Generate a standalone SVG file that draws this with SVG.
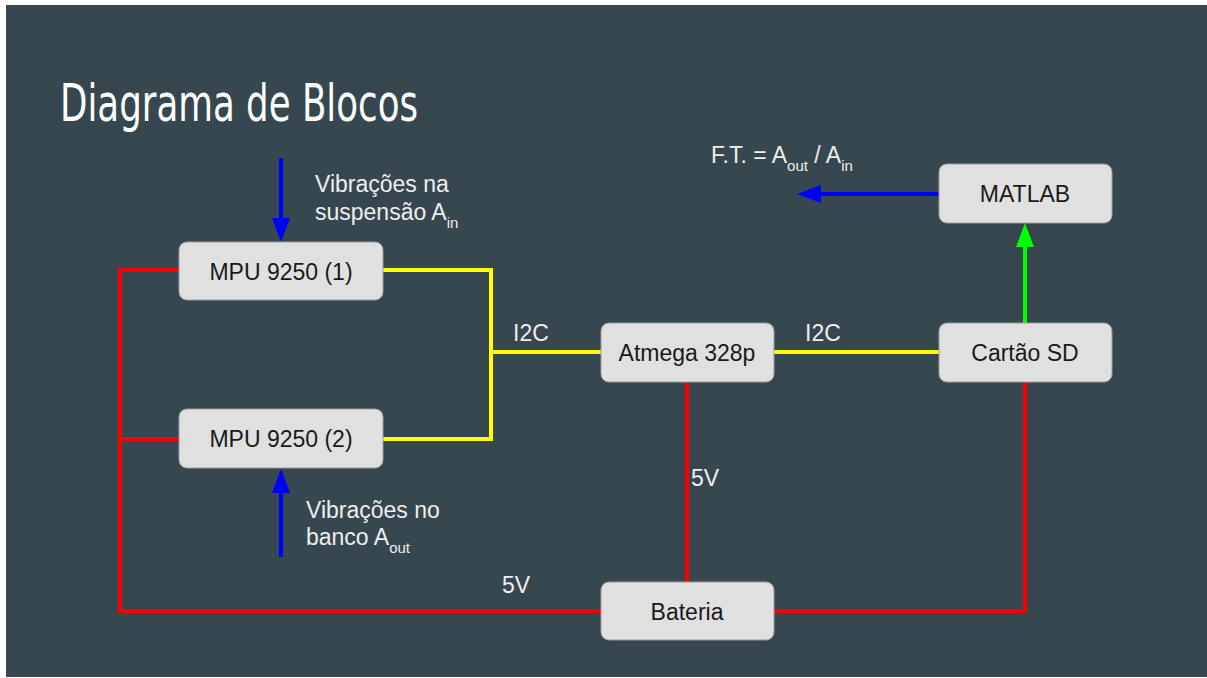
<svg xmlns="http://www.w3.org/2000/svg" width="1207" height="678" viewBox="0 0 1207 678">
<style>
.node rect{fill:#E0E0E0;stroke:#9E9E9E;stroke-width:1}
.node text{font-family:"Liberation Sans",Arial,sans-serif;font-size:23px;fill:#1a1a1a;text-anchor:middle}
.lbl{font-family:"Liberation Sans",Arial,sans-serif;font-size:23px;fill:#EEEEEE}
.sub{font-size:15px}
.red{stroke:#FF0000;stroke-width:4;fill:none}
.yel{stroke:#FFFF00;stroke-width:4;fill:none}
.blue{stroke:#0000FF;stroke-width:4;fill:none}
.green{stroke:#00FF00;stroke-width:4;fill:none}
</style>
<defs>
<marker id="ab" markerUnits="userSpaceOnUse" markerWidth="24" markerHeight="18" refX="0" refY="9" orient="auto"><path d="M0,0 L24,9 L0,18 z" fill="#0000FF"/></marker>
<marker id="ag" markerUnits="userSpaceOnUse" markerWidth="24" markerHeight="18" refX="0" refY="9" orient="auto"><path d="M0,0 L24,9 L0,18 z" fill="#00FF00"/></marker>
</defs>
<rect x="0" y="0" width="1207" height="678" fill="#FFFFFF"/>
<rect x="6" y="5" width="1201" height="672" fill="#37474F"/>
<text x="60" y="121" font-family="'DejaVu Sans Condensed','DejaVu Sans',sans-serif" font-size="52" fill="#FFFFFF" textLength="358" lengthAdjust="spacingAndGlyphs">Diagrama de Blocos</text>
<g id="connectors">
<polyline class="red" points="179,270 120,270 120,611 601,611"/>
<line class="red" x1="120" y1="439" x2="179" y2="439"/>
<polyline class="red" points="774,611 1025,611 1025,382"/>
<line class="red" x1="687" y1="382" x2="687" y2="582"/>
<polyline class="yel" points="383,270 491,270 491,439 383,439"/>
<line class="yel" x1="491" y1="352" x2="601" y2="352"/>
<line class="yel" x1="774" y1="352" x2="939" y2="352"/>
<line class="blue" x1="281" y1="158" x2="281" y2="218" marker-end="url(#ab)"/>
<line class="blue" x1="281" y1="557" x2="281" y2="493" marker-end="url(#ab)"/>
<line class="blue" x1="939" y1="194" x2="821" y2="194" marker-end="url(#ab)"/>
<line class="green" x1="1025" y1="323" x2="1025" y2="247" marker-end="url(#ag)"/>
<text class="lbl" x="513" y="341">I2C</text>
<text class="lbl" x="805" y="341">I2C</text>
<text class="lbl" x="691" y="486">5V</text>
<text class="lbl" x="502" y="593">5V</text>
</g>
<g id="mpu1" class="node"><rect x="179" y="242" width="204" height="58" rx="8"/><text x="281" y="280">MPU 9250 (1)</text></g>
<g id="mpu2" class="node"><rect x="179" y="409" width="204" height="59" rx="8"/><text x="281" y="447">MPU 9250 (2)</text></g>
<g id="atmega" class="node"><rect x="601" y="323" width="173" height="59" rx="8"/><text x="687" y="361">Atmega 328p</text></g>
<g id="matlab" class="node"><rect x="939" y="164" width="173" height="59" rx="8"/><text x="1025" y="202">MATLAB</text></g>
<g id="sd" class="node"><rect x="939" y="323" width="173" height="59" rx="8"/><text x="1025" y="361">Cartão SD</text></g>
<g id="bateria" class="node"><rect x="601" y="582" width="173" height="58" rx="8"/><text x="687" y="620">Bateria</text></g>
<g id="labels">
<text class="lbl" x="315" y="192">Vibrações na</text>
<text class="lbl" x="315" y="220">suspensão A<tspan class="sub" dy="8">in</tspan></text>
<text class="lbl" x="306" y="518">Vibrações no</text>
<text class="lbl" x="306" y="545">banco A<tspan class="sub" dy="8">out</tspan></text>
<text class="lbl" x="711" y="163">F.T. = A<tspan class="sub" dy="8">out</tspan><tspan dy="-8"> / A</tspan><tspan class="sub" dy="8">in</tspan></text>
</g>
</svg>
